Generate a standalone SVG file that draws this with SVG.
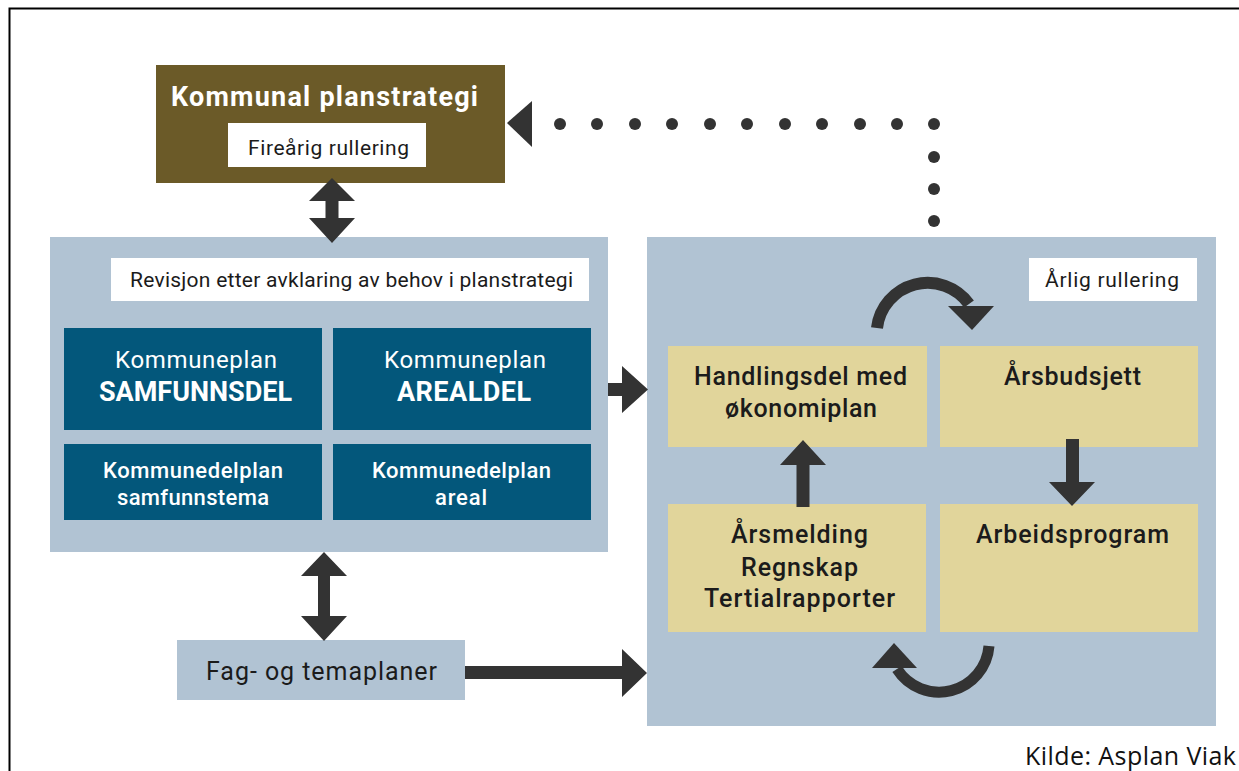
<svg xmlns="http://www.w3.org/2000/svg" width="1239" height="771" viewBox="0 0 1239 771">
<defs>
<style>
.t{font-family:Roboto,"DejaVu Sans",sans-serif;}
.w{fill:#ffffff;}
.k{fill:#1b1b1b;}
.m{font-weight:500;}
.arr{fill:#333333;}
.panel{fill:#b1c3d3;}
.dark{fill:#03577b;}
.yel{fill:#e1d59b;}
.dot{fill:#333333;}
</style>
</defs>
<rect x="0" y="0" width="1239" height="771" fill="#ffffff"/>
<path d="M9.5 771 V8.5 H1239" fill="none" stroke="#000000" stroke-width="2"/>

<g id="panel-left">
<rect class="panel" x="50" y="237" width="558" height="315"/>
<rect x="111" y="258" width="478" height="43" fill="#ffffff"/>
<text class="t k" x="130" y="287" font-size="21" textLength="443" lengthAdjust="spacing">Revisjon etter avklaring av behov i planstrategi</text>
</g>
<g id="panel-right">
<rect class="panel" x="647" y="237" width="569" height="489"/>
<rect x="1029" y="258" width="168" height="43" fill="#ffffff"/>
<text class="t k" x="1045" y="287" font-size="21" textLength="134" lengthAdjust="spacing">Årlig rullering</text>
</g>

<g id="kommunal-planstrategi">
<rect x="156" y="65" width="349" height="118" fill="#6b5a28"/>
<text class="t w" x="171" y="106" font-size="27" font-weight="bold" textLength="307" lengthAdjust="spacing">Kommunal planstrategi</text>
<rect x="228" y="123" width="198" height="44" fill="#ffffff"/>
<text class="t k" x="248" y="155" font-size="21" textLength="161" lengthAdjust="spacing">Fireårig rullering</text>
</g>

<g id="kp-samfunnsdel">
<rect class="dark" x="64" y="328" width="258" height="102"/>
<text class="t w" x="115" y="368" font-size="24" textLength="162" lengthAdjust="spacing">Kommuneplan</text>
<text class="t w" x="99" y="401" font-size="27" font-weight="bold" textLength="193" lengthAdjust="spacing">SAMFUNNSDEL</text>
</g>
<g id="kp-arealdel">
<rect class="dark" x="333" y="328" width="258" height="102"/>
<text class="t w" x="384" y="368" font-size="24" textLength="162" lengthAdjust="spacing">Kommuneplan</text>
<text class="t w" x="397" y="401" font-size="27" font-weight="bold" textLength="134" lengthAdjust="spacing">AREALDEL</text>
</g>
<g id="kdp-samfunnstema">
<rect class="dark" x="64" y="444" width="258" height="76"/>
<text class="t w m" x="103" y="478" font-size="22" textLength="180" lengthAdjust="spacing">Kommunedelplan</text>
<text class="t w m" x="117" y="505" font-size="22" textLength="152" lengthAdjust="spacing">samfunnstema</text>
</g>
<g id="kdp-areal">
<rect class="dark" x="333" y="444" width="258" height="76"/>
<text class="t w m" x="372" y="478" font-size="22" textLength="179" lengthAdjust="spacing">Kommunedelplan</text>
<text class="t w m" x="435" y="505" font-size="22" textLength="52" lengthAdjust="spacing">areal</text>
</g>

<g id="handlingsdel">
<rect class="yel" x="668" y="346" width="259" height="101"/>
<text class="t k m" x="694" y="385" font-size="25" textLength="213" lengthAdjust="spacing">Handlingsdel med</text>
<text class="t k m" x="725" y="417" font-size="25" textLength="152" lengthAdjust="spacing">økonomiplan</text>
</g>
<g id="arsbudsjett">
<rect class="yel" x="940" y="346" width="258" height="101"/>
<text class="t k m" x="1004" y="385" font-size="25" textLength="137" lengthAdjust="spacing">Årsbudsjett</text>
</g>
<g id="arsmelding">
<rect class="yel" x="668" y="504" width="258" height="128"/>
<text class="t k m" x="731" y="543" font-size="25" textLength="137" lengthAdjust="spacing">Årsmelding</text>
<text class="t k m" x="741" y="576" font-size="25" textLength="117" lengthAdjust="spacing">Regnskap</text>
<text class="t k m" x="704" y="607" font-size="25" textLength="191" lengthAdjust="spacing">Tertialrapporter</text>
</g>
<g id="arbeidsprogram">
<rect class="yel" x="940" y="504" width="258" height="128"/>
<text class="t k m" x="976" y="543" font-size="25" textLength="193" lengthAdjust="spacing">Arbeidsprogram</text>
</g>

<g id="fag-og-temaplaner">
<rect class="panel" x="177" y="640" width="288" height="60"/>
<text class="t k" x="206" y="680" font-size="25" textLength="231" lengthAdjust="spacing">Fag- og temaplaner</text>
</g>

<g id="connectors">
<polygon class="arr" points="332,178 355,201 338.5,201 338.5,218 355,218 332,243 309,218 325.5,218 325.5,201 309,201"/>
<polygon class="arr" points="324,552 347,576 330,576 330,616 347,616 324,641 301,616 318,616 318,576 301,576"/>
<polygon class="arr" points="608,383 622,383 622,366 648,389.5 622,413 622,396 608,396"/>
<polygon class="arr" points="465,666 622,666 622,649 647,673 622,697 622,679 465,679"/>
<polygon class="arr" points="803,440 826,465 809.5,465 809.5,507 796.5,507 796.5,465 780,465"/>
<polygon class="arr" points="1066,439 1079,439 1079,482 1095,482 1072,506 1049,482 1066,482"/>
<path d="M877 328 A51 51 0 0 1 969 304" fill="none" stroke="#333333" stroke-width="12"/>
<polygon class="arr" points="948,306 994,306 972,330"/>
<path d="M989 646 A50 50 0 0 1 897 669" fill="none" stroke="#333333" stroke-width="11"/>
<polygon class="arr" points="872,668 917,668 894,643"/>
<polygon class="arr" points="507,123 532,101 532,147"/>
<g class="dot">
<circle cx="560" cy="124" r="6"/>
<circle cx="597" cy="124" r="6"/>
<circle cx="635" cy="124" r="6"/>
<circle cx="672" cy="124" r="6"/>
<circle cx="710" cy="124" r="6"/>
<circle cx="747" cy="124" r="6"/>
<circle cx="785" cy="124" r="6"/>
<circle cx="822" cy="124" r="6"/>
<circle cx="860" cy="124" r="6"/>
<circle cx="897" cy="124" r="6"/>
<circle cx="934" cy="124" r="6"/>
<circle cx="934" cy="157" r="6"/>
<circle cx="934" cy="189" r="6"/>
<circle cx="934" cy="221" r="6"/>
</g>
</g>

<text x="1025" y="765" font-family="'Open Sans','Liberation Sans',sans-serif" font-size="25" fill="#111111" textLength="211" lengthAdjust="spacing">Kilde: Asplan Viak</text>
</svg>
